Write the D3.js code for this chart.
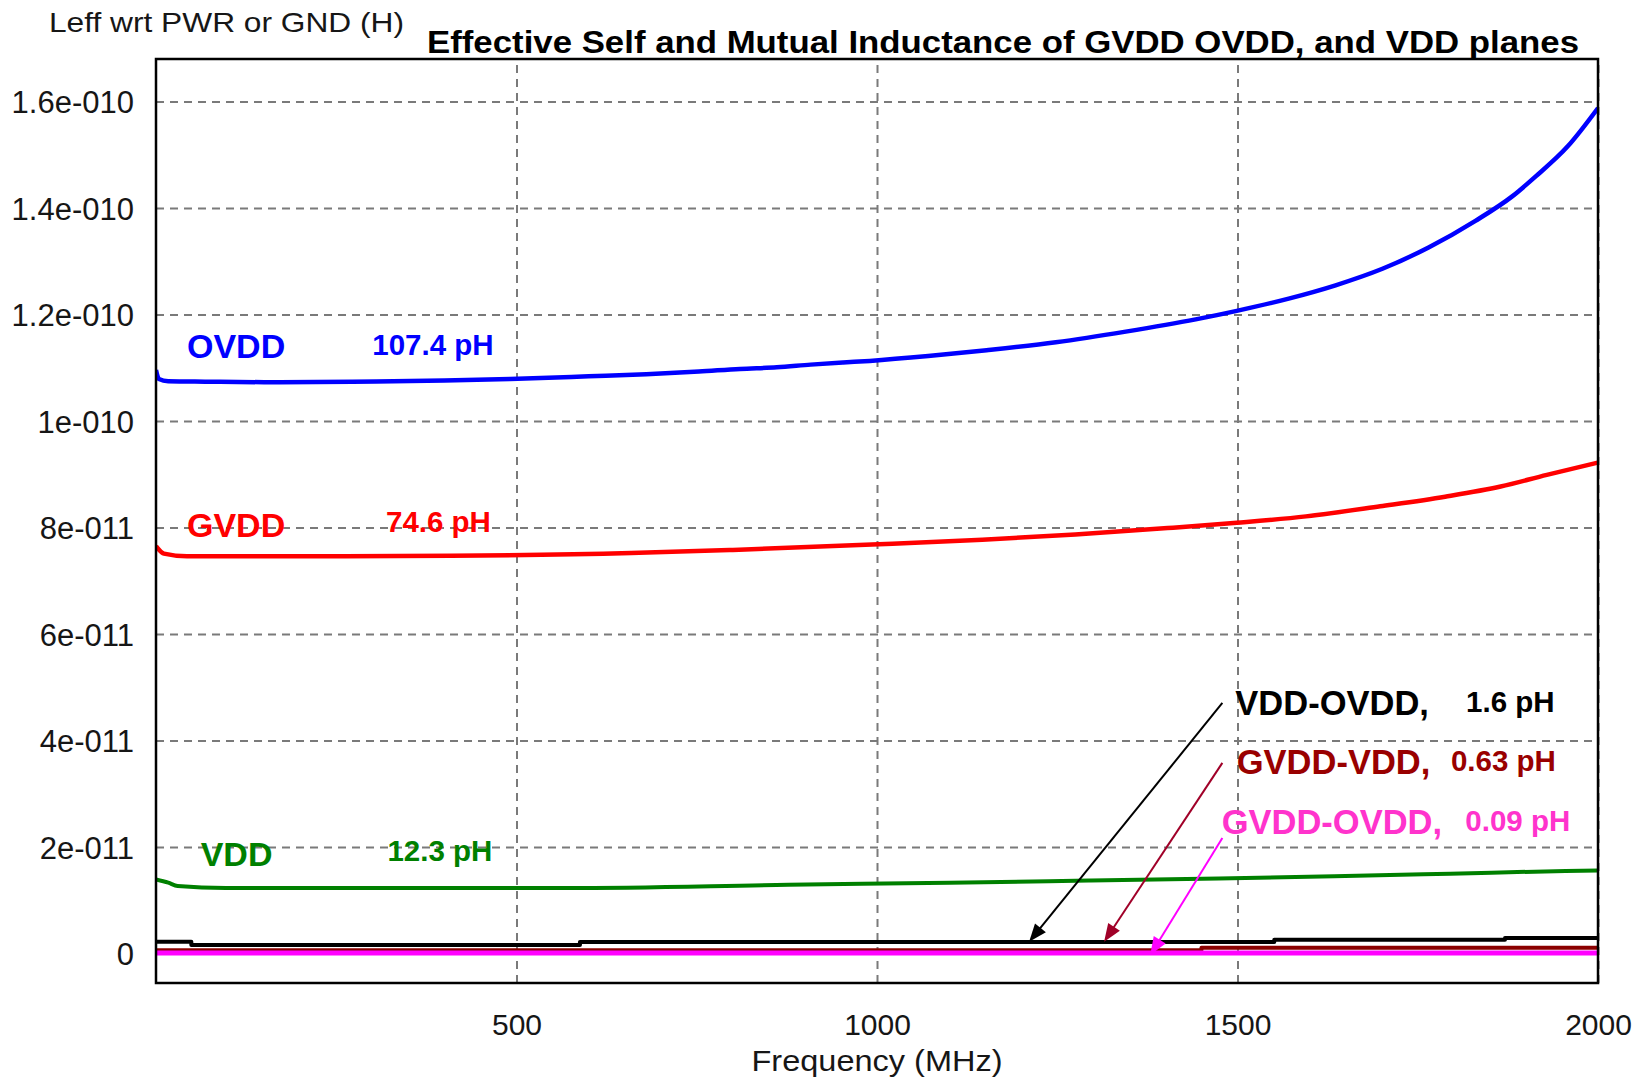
<!DOCTYPE html>
<html>
<head>
<meta charset="utf-8">
<script src="https://cdn.jsdelivr.net/npm/d3@7"></script>
<style>
  html, body { margin: 0; padding: 0; background: #ffffff; }
  svg { display: block; }
</style>
</head>
<body>
<svg id="chart" width="1644" height="1078"></svg>
<script>
// Frequency axis (MHz)
const xTicks = [500, 1000, 1500, 2000];
const xTickLabels = ["500", "1000", "1500", "2000"];

// Inductance axis: values in pH, labels in henries
const yTicks = [0, 20, 40, 60, 80, 100, 120, 140, 160];
const yTickLabels = ["0", "2e-011", "4e-011", "6e-011", "8e-011", "1e-010", "1.2e-010", "1.4e-010", "1.6e-010"];

// Self inductance of each plane (pH) vs frequency (MHz)
const ovddFreq = [0, 4, 17, 68, 150, 272, 400, 491, 600, 680, 753, 810, 861, 908, 953, 990, 1071, 1152, 1248, 1345, 1442, 1499, 1571, 1636, 1701, 1765, 1830, 1881, 1914, 1958, 2000];
const ovddL    = [109.6, 107.9, 107.5, 107.4, 107.3, 107.4, 107.6, 107.9, 108.4, 108.8, 109.3, 109.8, 110.1, 110.6, 111.0, 111.3, 112.2, 113.3, 114.8, 116.8, 119.1, 120.7, 123.0, 125.5, 128.6, 132.6, 137.6, 142.2, 146.0, 151.6, 158.8];

const gvddFreq = [0, 11, 43, 200, 409, 659, 800, 993, 1146, 1275, 1403, 1499, 1595, 1698, 1788, 1865, 1929, 2000];
const gvddL    = [76.5, 75.1, 74.6, 74.6, 74.7, 75.2, 75.8, 76.8, 77.7, 78.7, 79.9, 80.9, 82.1, 84.0, 85.8, 87.7, 89.9, 92.2];

const vddFreq = [0, 17, 30, 97, 569, 877, 1101, 1294, 1474, 1634, 1795, 1955, 2000];
const vddL    = [13.9, 13.3, 12.7, 12.3, 12.3, 12.9, 13.3, 13.7, 14.1, 14.5, 15.0, 15.5, 15.6];

// Mutual inductance between plane pairs (pH)
const vddOvddFreq = [0, 49, 588, 1551, 1871, 2000];
const vddOvddL    = [2.2, 1.6, 2.15, 2.6, 2.9, 2.9];

const gvddVddFreq = [0, 1450, 2000];
const gvddVddL    = [0.63, 1.1, 1.1];

const gvddOvddFreq = [0, 2000];
const gvddOvddL    = [0.09, 0.09];

// Names and quoted values for the annotations
const seriesNames  = ["OVDD", "GVDD", "VDD", "VDD-OVDD,", "GVDD-VDD,", "GVDD-OVDD,"];
const seriesValues = ["107.4 pH", "74.6 pH", "12.3 pH", "1.6 pH", "0.63 pH", "0.09 pH"];

const titleText  = "Effective Self and Mutual Inductance of GVDD OVDD, and VDD planes";
const yTitleText = "Leff wrt PWR or GND (H)";
const xTitleText = "Frequency (MHz)";

// ---------------------------------------------------------------------------
const FONT = "'Liberation Sans', Arial, Helvetica, sans-serif";
const plot = { left: 156, right: 1598, top: 59, bottom: 983 };

const x = d3.scaleLinear().domain([0, 2000]).range([plot.left, plot.right]);
const y = d3.scaleLinear().domain([-5.54, 168.0]).range([plot.bottom, plot.top]);

const svg = d3.select("#chart");
svg.append("rect").attr("width", 1644).attr("height", 1078).attr("fill", "#ffffff");

// Horizontal grid + y tick labels
const yAxis = d3.axisLeft(y)
  .tickValues(yTicks)
  .tickSize(-(plot.right - plot.left))
  .tickPadding(22)
  .tickFormat((d, i) => yTickLabels[i]);

const gy = svg.append("g")
  .attr("transform", `translate(${plot.left},0)`)
  .call(yAxis);
gy.select(".domain").remove();
gy.selectAll(".tick line")
  .attr("stroke", "#7a7a7a").attr("stroke-width", 2).attr("stroke-dasharray", "8,6");
gy.selectAll(".tick text")
  .attr("font-family", FONT).attr("font-size", 31).attr("fill", "#161616")
  .attr("dy", "0.36em");

// Vertical grid + x tick labels
const xAxis = d3.axisBottom(x)
  .tickValues(xTicks)
  .tickSize(-(plot.bottom - plot.top))
  .tickPadding(31)
  .tickFormat((d, i) => xTickLabels[i]);

const gx = svg.append("g")
  .attr("transform", `translate(0,${plot.bottom})`)
  .call(xAxis);
gx.select(".domain").remove();
gx.selectAll(".tick line")
  .attr("stroke", "#7a7a7a").attr("stroke-width", 2).attr("stroke-dasharray", "8,6");
gx.selectAll(".tick text")
  .attr("font-family", FONT).attr("font-size", 30).attr("fill", "#161616");

// Curves
const zipSeries = (f, v) => f.map((d, i) => [d, v[i]]);
const smooth = d3.line().x(d => x(d[0])).y(d => y(d[1])).curve(d3.curveMonotoneX);
const stepped = d3.line().x(d => x(d[0])).y(d => y(d[1])).curve(d3.curveStepAfter);

const curves = [
  { data: zipSeries(vddFreq, vddL),           gen: smooth,  color: "#008000", width: 4 },
  { data: zipSeries(gvddFreq, gvddL),         gen: smooth,  color: "#ff0000", width: 4.5 },
  { data: zipSeries(ovddFreq, ovddL),         gen: smooth,  color: "#0000ff", width: 4.5 },
  { data: zipSeries(vddOvddFreq, vddOvddL),   gen: stepped, color: "#000000", width: 4 },
  { data: zipSeries(gvddVddFreq, gvddVddL),   gen: stepped, color: "#8b0000", width: 4 },
  { data: zipSeries(gvddOvddFreq, gvddOvddL), gen: stepped, color: "#ff00ff", width: 5 }
];

svg.append("clipPath").attr("id", "plot-clip")
  .append("rect")
  .attr("x", plot.left).attr("y", plot.top)
  .attr("width", plot.right - plot.left).attr("height", plot.bottom - plot.top);

const gLines = svg.append("g").attr("clip-path", "url(#plot-clip)");
curves.forEach(c => {
  gLines.append("path")
    .attr("d", c.gen(c.data))
    .attr("fill", "none")
    .attr("stroke", c.color)
    .attr("stroke-width", c.width)
    .attr("stroke-linejoin", "round");
});

// Plot frame
svg.append("rect")
  .attr("x", plot.left).attr("y", plot.top)
  .attr("width", plot.right - plot.left).attr("height", plot.bottom - plot.top)
  .attr("fill", "none").attr("stroke", "#000").attr("stroke-width", 2.5);

// Titles
svg.append("text")
  .attr("x", 427).attr("y", 53)
  .attr("font-family", FONT).attr("font-weight", "bold").attr("font-size", 32)
  .attr("textLength", 1152).attr("lengthAdjust", "spacingAndGlyphs")
  .attr("fill", "#000").text(titleText);

svg.append("text")
  .attr("x", 49).attr("y", 32)
  .attr("font-family", FONT).attr("font-size", 28)
  .attr("textLength", 355).attr("lengthAdjust", "spacingAndGlyphs")
  .attr("fill", "#161616").text(yTitleText);

svg.append("text")
  .attr("x", (x(0) + x(2000)) / 2).attr("y", 1071)
  .attr("text-anchor", "middle")
  .attr("font-family", FONT).attr("font-size", 29)
  .attr("textLength", 251).attr("lengthAdjust", "spacingAndGlyphs")
  .attr("fill", "#161616").text(xTitleText);

// Series annotations, placed in data coordinates (MHz, pH)
const labels = [
  { text: seriesNames[0],  f: 43,   v: 111.8, color: "#0000ff", size: 34 },
  { text: seriesValues[0], f: 300,  v: 112.5, color: "#0000ff", size: 29.5 },
  { text: seriesNames[1],  f: 43,   v: 78.2,  color: "#ff0000", size: 34 },
  { text: seriesValues[1], f: 319,  v: 79.1,  color: "#ff0000", size: 29.5 },
  { text: seriesNames[2],  f: 62,   v: 16.4,  color: "#008000", size: 34 },
  { text: seriesValues[2], f: 321,  v: 17.4,  color: "#008000", size: 29.5 },
  { text: seriesNames[3],  f: 1497, v: 44.8,  color: "#000000", size: 34.5 },
  { text: seriesValues[3], f: 1817, v: 45.3,  color: "#000000", size: 29.5 },
  { text: seriesNames[4],  f: 1499, v: 33.7,  color: "#990000", size: 34.5 },
  { text: seriesValues[4], f: 1796, v: 34.3,  color: "#990000", size: 29.5 },
  { text: seriesNames[5],  f: 1478, v: 22.4,  color: "#ff33cc", size: 34.5 },
  { text: seriesValues[5], f: 1816, v: 23.0,  color: "#ff33cc", size: 29.5 }
];

svg.append("g").selectAll("text").data(labels).join("text")
  .attr("x", d => x(d.f)).attr("y", d => y(d.v))
  .attr("font-family", FONT).attr("font-weight", "bold")
  .attr("font-size", d => d.size)
  .attr("fill", d => d.color)
  .text(d => d.text);

// Leader arrows from the mutual-inductance labels down to their curves
const arrows = [
  { from: [1479, 47.05], to: [1211, 2.2],  color: "#000000" },
  { from: [1479, 35.8],  to: [1315, 2.2],  color: "#a00028" },
  { from: [1479, 21.7],  to: [1379, -0.3], color: "#ff00ff" }
];

const gArrows = svg.append("g");
arrows.forEach(a => {
  const x1 = x(a.from[0]), y1 = y(a.from[1]);
  const x2 = x(a.to[0]),   y2 = y(a.to[1]);
  const dx = x2 - x1, dy = y2 - y1;
  const len = Math.hypot(dx, dy);
  const ux = dx / len, uy = dy / len;
  const headLen = 18, headHalf = 7;
  const bx = x2 - ux * headLen, by = y2 - uy * headLen;
  gArrows.append("line")
    .attr("x1", x1).attr("y1", y1).attr("x2", bx + ux * 2).attr("y2", by + uy * 2)
    .attr("stroke", a.color).attr("stroke-width", 2);
  gArrows.append("path")
    .attr("d", `M${x2},${y2}L${bx - uy * headHalf},${by + ux * headHalf}L${bx + uy * headHalf},${by - ux * headHalf}Z`)
    .attr("fill", a.color);
});
</script>
</body>
</html>
